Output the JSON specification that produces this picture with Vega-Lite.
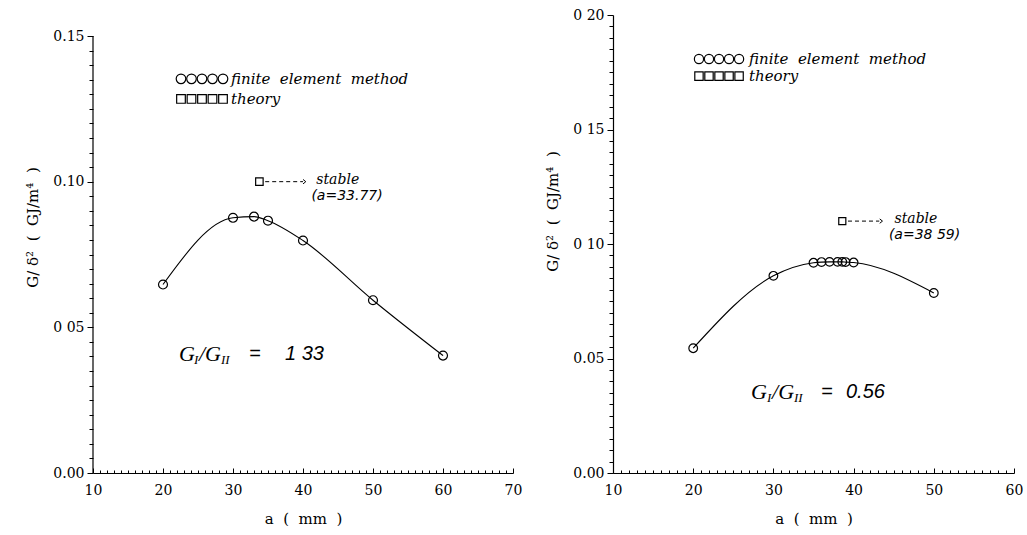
{
  "$schema": "https://vega.github.io/schema/vega-lite/v6.json",
  "background": "white",
  "padding": {"left": 25, "top": 8, "right": 0, "bottom": 0},
  "spacing": 100,
  "bounds": "flush",
  "datasets": {
    "fe_left": [
      {"a": 20, "v": 0.0647}, {"a": 30, "v": 0.0876}, {"a": 33, "v": 0.0880}, {"a": 35, "v": 0.0866},
      {"a": 40, "v": 0.0798}, {"a": 50, "v": 0.0593}, {"a": 60, "v": 0.0403}
    ],
    "th_left": [{"a": 33.77, "v": 0.100}],
    "axis_left": [{"a": 10, "v": 0, "v2": 0.15}],
    "arrow_left": [{"a": 34.6, "a2": 40.0, "v": 0.100}],
    "head_left": [{"a": 40.4, "v": 0.100}],
    "leg_left": [
      {"a": 22.57, "v": 0.1353, "kind": "circle"}, {"a": 24.07, "v": 0.1353, "kind": "circle"}, {"a": 25.57, "v": 0.1353, "kind": "circle"}, {"a": 27.07, "v": 0.1353, "kind": "circle"}, {"a": 28.57, "v": 0.1353, "kind": "circle"},
      {"a": 22.57, "v": 0.1284, "kind": "square"}, {"a": 24.07, "v": 0.1284, "kind": "square"}, {"a": 25.57, "v": 0.1284, "kind": "square"}, {"a": 27.07, "v": 0.1284, "kind": "square"}, {"a": 28.57, "v": 0.1284, "kind": "square"}
    ],
    "lab_left": [
      {"a": 29.71, "v": 0.1353, "text": "finite\u00a0\u00a0element\u00a0\u00a0method", "role": "legend"},
      {"a": 29.71, "v": 0.1284, "text": "theory", "role": "legend"},
      {"a": 41.9, "v": 0.1005, "text": "stable", "role": "note"},
      {"a": 41.2, "v": 0.0950, "text": "(a=33.77)", "role": "note2"},
      {"a": 22.29, "v": 0.0409, "text": "G", "role": "G"},
      {"a": 25.14, "v": 0.0409, "text": "/G", "role": "G"},
      {"a": 24.43, "v": 0.0409, "text": "I", "role": "sub"},
      {"a": 28.29, "v": 0.0409, "text": "II", "role": "sub"},
      {"a": 32.29, "v": 0.0409, "text": "=", "role": "num"},
      {"a": 37.43, "v": 0.0409, "text": "1\u00a033", "role": "num"}
    ],
    "fe_right": [
      {"a": 20, "v": 0.0545}, {"a": 30, "v": 0.0861}, {"a": 35, "v": 0.0918}, {"a": 36, "v": 0.0921},
      {"a": 37, "v": 0.0922}, {"a": 38, "v": 0.0922}, {"a": 38.59, "v": 0.0922}, {"a": 39, "v": 0.0921},
      {"a": 40, "v": 0.0919}, {"a": 50, "v": 0.0786}
    ],
    "th_right": [{"a": 38.59, "v": 0.110}],
    "arrow_right": [{"a": 39.3, "a2": 43.2, "v": 0.110}],
    "head_right": [{"a": 43.6, "v": 0.110}],
    "leg_right": [
      {"a": 20.72, "v": 0.1808, "kind": "circle"}, {"a": 21.97, "v": 0.1808, "kind": "circle"}, {"a": 23.22, "v": 0.1808, "kind": "circle"}, {"a": 24.47, "v": 0.1808, "kind": "circle"}, {"a": 25.72, "v": 0.1808, "kind": "circle"},
      {"a": 20.72, "v": 0.1733, "kind": "square"}, {"a": 21.97, "v": 0.1733, "kind": "square"}, {"a": 23.22, "v": 0.1733, "kind": "square"}, {"a": 24.47, "v": 0.1733, "kind": "square"}, {"a": 25.72, "v": 0.1733, "kind": "square"}
    ],
    "lab_right": [
      {"a": 26.96, "v": 0.1808, "text": "finite\u00a0\u00a0element\u00a0\u00a0method", "role": "legend"},
      {"a": 26.96, "v": 0.1733, "text": "theory", "role": "legend"},
      {"a": 45.1, "v": 0.1110, "text": "stable", "role": "note"},
      {"a": 44.4, "v": 0.1041, "text": "(a=38 59)", "role": "note2"},
      {"a": 27.21, "v": 0.0354, "text": "G", "role": "G"},
      {"a": 29.83, "v": 0.0354, "text": "/G", "role": "G"},
      {"a": 29.20, "v": 0.0354, "text": "I", "role": "sub"},
      {"a": 32.57, "v": 0.0354, "text": "II", "role": "sub"},
      {"a": 35.94, "v": 0.0354, "text": "=", "role": "num"},
      {"a": 39.05, "v": 0.0354, "text": "0.56", "role": "num"}
    ]
  },
  "hconcat": [
    {
      "width": 420,
      "height": 458,
      "encoding": {
        "x": {
          "field": "a", "type": "quantitative",
          "scale": {"domain": [10, 70], "nice": false, "zero": false},
          "axis": {
            "title": "a\u00a0\u00a0(\u00a0\u00a0mm\u00a0\u00a0)",
            "values": [10,11,12,13,14,15,16,17,18,19,20,21,22,23,24,25,26,27,28,29,30,31,32,33,34,35,36,37,38,39,40,41,42,43,44,45,46,47,48,49,50,51,52,53,54,55,56,57,58,59,60,61,62,63,64,65,66,67,68,69,70],
            "labelExpr": "datum.value % 10 == 0 ? datum.label : ''",
            "tickSize": {"condition": {"test": "datum.value % 10 == 0", "value": -5}, "value": -3}
          }
        },
        "y": {
          "field": "v", "type": "quantitative",
          "scale": {"domain": [0, 0.15721], "nice": false, "zero": true},
          "axis": {
            "title": "G/\u00a0δ²\u00a0\u00a0(\u00a0\u00a0GJ/m⁴\u00a0\u00a0)",
            "titleY": 212,
            "domain": false,
            "values": [0,0.005,0.01,0.015,0.02,0.025,0.03,0.035,0.04,0.045,0.05,0.055,0.06,0.065,0.07,0.075,0.08,0.085,0.09,0.095,0.1,0.105,0.11,0.115,0.12,0.125,0.13,0.135,0.14,0.145,0.15],
            "labelExpr": "round(datum.value*1000) == 50 ? '0 05' : (round(datum.value*1000) % 50 == 0 ? format(datum.value, '.2f') : '')",
            "tickSize": {"condition": {"test": "round(datum.value*1000) % 50 == 0", "value": 6}, "value": 4}
          }
        }
      },
      "layer": [
        {
          "data": {"name": "axis_left"},
          "mark": {"type": "rule", "color": "black", "strokeWidth": 1.2},
          "encoding": {"y2": {"field": "v2"}}
        },
        {
          "data": {"name": "fe_left"},
          "mark": {"type": "line", "interpolate": "monotone", "color": "black", "strokeWidth": 1.1}
        },
        {
          "data": {"name": "fe_left"},
          "mark": {"type": "point", "shape": "circle", "filled": false, "size": 80, "color": "black", "strokeWidth": 1.2, "opacity": 1}
        },
        {
          "data": {"name": "th_left"},
          "mark": {"type": "point", "shape": "square", "filled": false, "size": 56, "color": "black", "strokeWidth": 1.2, "opacity": 1}
        },
        {
          "data": {"name": "arrow_left"},
          "mark": {"type": "rule", "color": "black", "strokeWidth": 1, "strokeDash": [4, 3]},
          "encoding": {"x2": {"field": "a2"}}
        },
        {
          "data": {"name": "head_left"},
          "mark": {"type": "point", "shape": "M-1,-0.8L0,0L-1,0.8", "filled": false, "size": 30, "color": "black", "strokeWidth": 1, "opacity": 1}
        },
        {
          "data": {"name": "leg_left"},
          "transform": [{"filter": "datum.kind == 'circle'"}],
          "mark": {"type": "point", "shape": "circle", "filled": false, "size": 92, "color": "black", "strokeWidth": 1.2, "opacity": 1}
        },
        {
          "data": {"name": "leg_left"},
          "transform": [{"filter": "datum.kind == 'square'"}],
          "mark": {"type": "point", "shape": "square", "filled": false, "size": 75, "color": "black", "strokeWidth": 1.2, "opacity": 1}
        },
        {
          "data": {"name": "lab_left"},
          "transform": [{"filter": "datum.role == 'legend'"}],
          "mark": {"type": "text", "align": "left", "baseline": "middle", "font": "DejaVu Serif", "fontStyle": "italic", "fontSize": 15, "color": "black"},
          "encoding": {"text": {"field": "text"}}
        },
        {
          "data": {"name": "lab_left"},
          "transform": [{"filter": "datum.role == 'note'"}],
          "mark": {"type": "text", "align": "left", "baseline": "middle", "font": "DejaVu Serif", "fontStyle": "italic", "fontSize": 14, "color": "black"},
          "encoding": {"text": {"field": "text"}}
        },
        {
          "data": {"name": "lab_left"},
          "transform": [{"filter": "datum.role == 'note2'"}],
          "mark": {"type": "text", "align": "left", "baseline": "middle", "font": "DejaVu Sans", "fontStyle": "italic", "fontSize": 14, "color": "black"},
          "encoding": {"text": {"field": "text"}}
        },
        {
          "data": {"name": "lab_left"},
          "transform": [{"filter": "datum.role == 'G'"}],
          "mark": {"type": "text", "align": "left", "baseline": "middle", "font": "Liberation Serif", "fontStyle": "italic", "fontSize": 22, "color": "black"},
          "encoding": {"text": {"field": "text"}}
        },
        {
          "data": {"name": "lab_left"},
          "transform": [{"filter": "datum.role == 'sub'"}],
          "mark": {"type": "text", "align": "left", "baseline": "middle", "dy": 6, "font": "Liberation Serif", "fontStyle": "italic", "fontSize": 13, "color": "black"},
          "encoding": {"text": {"field": "text"}}
        },
        {
          "data": {"name": "lab_left"},
          "transform": [{"filter": "datum.role == 'num'"}],
          "mark": {"type": "text", "align": "left", "baseline": "middle", "font": "Liberation Sans", "fontStyle": "italic", "fontSize": 20, "color": "black"},
          "encoding": {"text": {"field": "text"}}
        }
      ]
    },
    {
      "width": 401,
      "height": 458,
      "encoding": {
        "x": {
          "field": "a", "type": "quantitative",
          "scale": {"domain": [10, 60], "nice": false, "zero": false},
          "axis": {
            "title": "a\u00a0\u00a0(\u00a0\u00a0mm\u00a0\u00a0)",
            "values": [10,11,12,13,14,15,16,17,18,19,20,21,22,23,24,25,26,27,28,29,30,31,32,33,34,35,36,37,38,39,40,41,42,43,44,45,46,47,48,49,50,51,52,53,54,55,56,57,58,59,60],
            "labelExpr": "datum.value % 10 == 0 ? datum.label : ''",
            "tickSize": {"condition": {"test": "datum.value % 10 == 0", "value": -5}, "value": -3}
          }
        },
        "y": {
          "field": "v", "type": "quantitative",
          "scale": {"domain": [0, 0.2], "nice": false, "zero": true},
          "axis": {
            "title": "G/\u00a0δ²\u00a0\u00a0(\u00a0\u00a0GJ/m⁴\u00a0\u00a0)",
            "titleY": 196,
            "values": [0,0.005,0.01,0.015,0.02,0.025,0.03,0.035,0.04,0.045,0.05,0.055,0.06,0.065,0.07,0.075,0.08,0.085,0.09,0.095,0.1,0.105,0.11,0.115,0.12,0.125,0.13,0.135,0.14,0.145,0.15,0.155,0.16,0.165,0.17,0.175,0.18,0.185,0.19,0.195,0.2],
            "labelExpr": "round(datum.value*1000) % 50 != 0 ? '' : (datum.value > 0.09 ? replace(format(datum.value, '.2f'), '.', ' ') : format(datum.value, '.2f'))",
            "tickSize": {"condition": {"test": "round(datum.value*1000) % 50 == 0", "value": 6}, "value": 4}
          }
        }
      },
      "layer": [
        {
          "data": {"name": "fe_right"},
          "mark": {"type": "line", "interpolate": "monotone", "color": "black", "strokeWidth": 1.1}
        },
        {
          "data": {"name": "fe_right"},
          "mark": {"type": "point", "shape": "circle", "filled": false, "size": 75, "color": "black", "strokeWidth": 1.2, "opacity": 1}
        },
        {
          "data": {"name": "th_right"},
          "mark": {"type": "point", "shape": "square", "filled": false, "size": 50, "color": "black", "strokeWidth": 1.2, "opacity": 1}
        },
        {
          "data": {"name": "arrow_right"},
          "mark": {"type": "rule", "color": "black", "strokeWidth": 1, "strokeDash": [4, 3]},
          "encoding": {"x2": {"field": "a2"}}
        },
        {
          "data": {"name": "head_right"},
          "mark": {"type": "point", "shape": "M-1,-0.8L0,0L-1,0.8", "filled": false, "size": 30, "color": "black", "strokeWidth": 1, "opacity": 1}
        },
        {
          "data": {"name": "leg_right"},
          "transform": [{"filter": "datum.kind == 'circle'"}],
          "mark": {"type": "point", "shape": "circle", "filled": false, "size": 85, "color": "black", "strokeWidth": 1.2, "opacity": 1}
        },
        {
          "data": {"name": "leg_right"},
          "transform": [{"filter": "datum.kind == 'square'"}],
          "mark": {"type": "point", "shape": "square", "filled": false, "size": 70, "color": "black", "strokeWidth": 1.2, "opacity": 1}
        },
        {
          "data": {"name": "lab_right"},
          "transform": [{"filter": "datum.role == 'legend'"}],
          "mark": {"type": "text", "align": "left", "baseline": "middle", "font": "DejaVu Serif", "fontStyle": "italic", "fontSize": 15, "color": "black"},
          "encoding": {"text": {"field": "text"}}
        },
        {
          "data": {"name": "lab_right"},
          "transform": [{"filter": "datum.role == 'note'"}],
          "mark": {"type": "text", "align": "left", "baseline": "middle", "font": "DejaVu Serif", "fontStyle": "italic", "fontSize": 14, "color": "black"},
          "encoding": {"text": {"field": "text"}}
        },
        {
          "data": {"name": "lab_right"},
          "transform": [{"filter": "datum.role == 'note2'"}],
          "mark": {"type": "text", "align": "left", "baseline": "middle", "font": "DejaVu Sans", "fontStyle": "italic", "fontSize": 14, "color": "black"},
          "encoding": {"text": {"field": "text"}}
        },
        {
          "data": {"name": "lab_right"},
          "transform": [{"filter": "datum.role == 'G'"}],
          "mark": {"type": "text", "align": "left", "baseline": "middle", "font": "Liberation Serif", "fontStyle": "italic", "fontSize": 22, "color": "black"},
          "encoding": {"text": {"field": "text"}}
        },
        {
          "data": {"name": "lab_right"},
          "transform": [{"filter": "datum.role == 'sub'"}],
          "mark": {"type": "text", "align": "left", "baseline": "middle", "dy": 6, "font": "Liberation Serif", "fontStyle": "italic", "fontSize": 13, "color": "black"},
          "encoding": {"text": {"field": "text"}}
        },
        {
          "data": {"name": "lab_right"},
          "transform": [{"filter": "datum.role == 'num'"}],
          "mark": {"type": "text", "align": "left", "baseline": "middle", "font": "Liberation Sans", "fontStyle": "italic", "fontSize": 20, "color": "black"},
          "encoding": {"text": {"field": "text"}}
        }
      ]
    }
  ],
  "config": {
    "view": {"stroke": null},
    "axis": {
      "grid": false,
      "domainColor": "black",
      "domainWidth": 1.2,
      "tickColor": "black",
      "tickWidth": 1,
      "labelColor": "black",
      "titleColor": "black",
      "labelFont": "DejaVu Serif",
      "labelFontSize": 14,
      "titleFont": "DejaVu Serif",
      "titleFontSize": 15,
      "titleFontWeight": "normal",
      "labelFlush": false,
      "labelOverlap": false
    },
    "axisX": {"labelPadding": 15, "titlePadding": 12},
    "axisY": {"labelPadding": 3, "titlePadding": 12}
  }
}
